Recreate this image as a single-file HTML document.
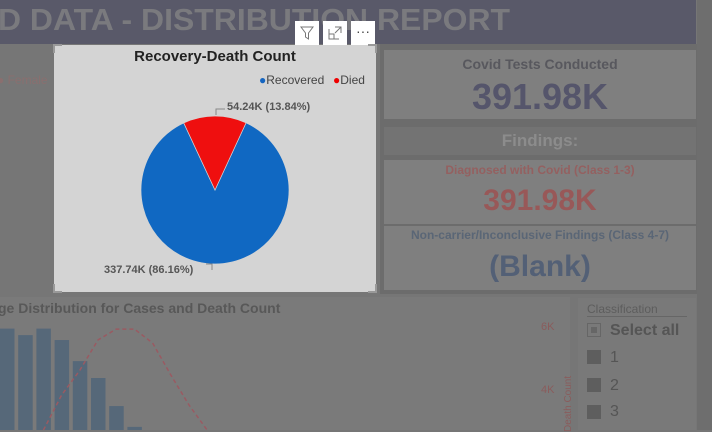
<!DOCTYPE html>
<html><head><meta charset="utf-8"><style>
body{margin:0;width:712px;height:430px;overflow:hidden;background:#767676;font-family:"Liberation Sans",sans-serif;position:relative}
.abs{position:absolute}
.card{position:absolute;background:#7f7f7f;}
.t{position:absolute;white-space:nowrap;font-weight:bold}
</style></head><body>
<div class="abs" style="left:0;top:0;width:696px;height:44px;background:#595969"></div>
<div class="t" style="left:-2px;top:2px;font-size:31px;color:#7a7a7e;transform:scaleX(1.03);transform-origin:0 0">D DATA - DISTRIBUTION REPORT</div>
<div class="abs" style="left:697px;top:0;width:15px;height:430px;background:#6e6e6e"></div>
<div class="abs" style="left:380px;top:44px;width:317px;height:250px;background:#6c6c6c"></div>
<div class="t" style="left:-3px;top:73px;font-size:12px;font-weight:normal;color:#8a6f6f">● Female</div>

<div class="card" style="left:384px;top:50px;width:312px;height:69px">
<div class="t" style="left:0;width:312px;text-align:center;top:6px;font-size:14px;color:#58585e">Covid Tests Conducted</div>
<div class="t" style="left:0;width:312px;text-align:center;top:26px;font-size:36px;color:#55556b">391.98K</div></div>
<div class="card" style="left:384px;top:127px;width:312px;height:28px;background:#737373">
<div class="t" style="left:0;width:312px;text-align:center;top:4px;font-size:17px;color:#8c8c8c">Findings:</div></div>
<div class="card" style="left:384px;top:160px;width:312px;height:64px">
<div class="t" style="left:0;width:312px;text-align:center;top:3px;font-size:12px;color:#946060">Diagnosed with Covid (Class 1-3)</div>
<div class="t" style="left:0;width:312px;text-align:center;top:24px;font-size:30px;color:#985858">391.98K</div></div>
<div class="card" style="left:384px;top:226px;width:312px;height:64px">
<div class="t" style="left:0;width:312px;text-align:center;top:2px;font-size:12px;color:#5a6676">Non-carrier/Inconclusive Findings (Class 4-7)</div>
<div class="t" style="left:0;width:312px;text-align:center;top:24px;font-size:30px;color:#536076">(Blank)</div></div>

<div class="card" style="left:0;top:297px;width:570px;height:133px;background:#7a7a7a"></div>
<div class="t" style="left:-2px;top:300px;font-size:14px;color:#585858">ge Distribution for Cases and Death Count</div>
<svg class="abs" style="left:0;top:0" width="712" height="430" id="age"></svg>
<div class="t" style="left:541px;top:321px;font-size:11px;font-weight:normal;color:#8a5c5c">6K</div>
<div class="t" style="left:541px;top:384px;font-size:11px;font-weight:normal;color:#8a5c5c">4K</div>
<div class="t" style="left:563px;top:432px;font-size:10px;font-weight:normal;color:#8a5c5c;transform:rotate(-90deg);transform-origin:0 0">Death Count</div>

<div class="card" style="left:578px;top:298px;width:118px;height:132px;background:#797979">
<div class="t" style="left:9px;top:4px;font-size:12px;font-weight:normal;color:#5d5d5d">Classification</div>
<div class="abs" style="left:9px;top:18px;width:100px;height:1px;background:#666"></div>
<div class="abs" style="left:9px;top:25px;width:12px;height:12px;border:1px solid #666"><div style="margin:3px;width:6px;height:6px;background:#666"></div></div>
<div class="t" style="left:32px;top:24px;font-size:16px;color:#555">Select all</div>
<div class="abs" style="left:9px;top:52px;width:14px;height:14px;background:#5e5e5e"></div><div class="t" style="left:32px;top:51px;font-size:16px;font-weight:normal;color:#555">1</div>
<div class="abs" style="left:9px;top:80px;width:14px;height:14px;background:#5e5e5e"></div><div class="t" style="left:32px;top:79px;font-size:16px;font-weight:normal;color:#555">2</div>
<div class="abs" style="left:9px;top:107px;width:14px;height:14px;background:#5e5e5e"></div><div class="t" style="left:32px;top:105px;font-size:16px;font-weight:normal;color:#555">3</div>
</div>

<!-- focused pie visual -->
<div class="abs" style="left:54px;top:45px;width:322px;height:247px;background:#d4d4d4"></div>
<div class="abs" style="left:295px;top:21px;width:24px;height:24px;background:#fff"><svg width="24" height="24"><path d="M6,6H18L13.5,12V18L10.5,16V12Z" fill="none" stroke="#777"/></svg></div>
<div class="abs" style="left:323px;top:21px;width:24px;height:24px;background:#fff"><svg width="24" height="24"><path d="M6,8V18H16M6,13H11V18M12,6H18V12M18,6L12,12" fill="none" stroke="#777"/></svg></div>
<div class="abs" style="left:351px;top:21px;width:24px;height:24px;background:#fff;text-align:center;font-size:14px;line-height:20px;color:#444">···</div>
<div class="t" style="left:54px;width:322px;text-align:center;top:48px;font-size:15px;color:#222">Recovery-Death Count</div>
<div class="t" style="left:259px;top:73px;font-size:12px;font-weight:normal;color:#444"><span style="color:#1565c0">●</span>Recovered</div>
<div class="t" style="left:333px;top:73px;font-size:12px;font-weight:normal;color:#444"><span style="color:#e00">●</span>Died</div>
<svg class="abs" style="left:0;top:0" width="712" height="430" id="pie"></svg>
<div class="t" style="left:227px;top:101px;font-size:11px;color:#555">54.24K (13.84%)</div>
<div class="t" style="left:104px;top:264px;font-size:11px;color:#555">337.74K (86.16%)</div>

<script>
const NS='http://www.w3.org/2000/svg';
// pie data
const pieCats=['Recovered','Died'];
const pieVals=[337.74,54.24];
const pieColors=['#1068c2','#ef0f0f'];
// age chart data
const ageBars=[3900,3650,3900,3460,2650,2000,920,120,0,0,0,0];
const deathLine=[null,null,2770,3900,4700,5680,6030,6030,5580,4550,3580,2770];
const pie=document.getElementById('pie');
const cx=215,cy=190,r=74;
const total=pieVals.reduce((a,b)=>a+b,0);
let ang=-25-360*pieVals[0]/total;
function pt(a,rr){const t=(a-90)*Math.PI/180;return [cx+rr*Math.cos(t),cy+rr*Math.sin(t)];}
pieVals.forEach((v,i)=>{
  const sw=360*v/total,a0=ang,a1=ang+sw;ang=a1;
  const p0=pt(a0,r),p1=pt(a1,r);
  const p=document.createElementNS(NS,'path');
  p.setAttribute('d',`M${cx},${cy}L${p0[0]},${p0[1]}A${r},${r} 0 ${sw>180?1:0} 1 ${p1[0]},${p1[1]}Z`);
  p.setAttribute('fill',pieColors[i]);p.setAttribute('stroke','#d4d4d4');p.setAttribute('stroke-width','0.7');
  
  
  pie.appendChild(p);
});
const ld=document.createElementNS(NS,'path');ld.setAttribute('d','M216,115L216,109L225,109M206,264L212,264L212,270');ld.setAttribute('stroke','#888');ld.setAttribute('fill','none');pie.appendChild(ld);
[[54,45,1,1],[376,45,-1,1],[54,292,1,-1],[376,292,-1,-1]].forEach(c=>{const e=document.createElementNS(NS,'path');e.setAttribute('d',`M${c[0]},${c[1]+8*c[3]}L${c[0]},${c[1]}L${c[0]+8*c[2]},${c[1]}`);e.setAttribute('stroke','#999');e.setAttribute('stroke-width','2');e.setAttribute('fill','none');pie.appendChild(e);});
// age chart
const age=document.getElementById('age');
const xb=i=>i*18.2;
const yBar=v=>430-v*0.026;
const yl=v=>392-(v-4000)*0.031;
ageBars.forEach((v,i)=>{
  if(v<=0)return;
  const b=document.createElementNS(NS,'rect');
  b.setAttribute('x',xb(i));b.setAttribute('y',yBar(v));b.setAttribute('width',14.5);b.setAttribute('height',430-yBar(v));
  b.setAttribute('fill','#566879');
  
  
  age.appendChild(b);
});
let d='';let first=true;deathLine.forEach((v,i)=>{if(v==null)return;d+=(first?'M':'L')+(xb(i)+7)+','+yl(v);first=false;});
const ln=document.createElementNS(NS,'path');ln.setAttribute('d',d);ln.setAttribute('stroke','#9a5a62');ln.setAttribute('stroke-width','1.5');ln.setAttribute('stroke-dasharray','4,3');ln.setAttribute('fill','none');


age.appendChild(ln);
</script>
</body></html>
